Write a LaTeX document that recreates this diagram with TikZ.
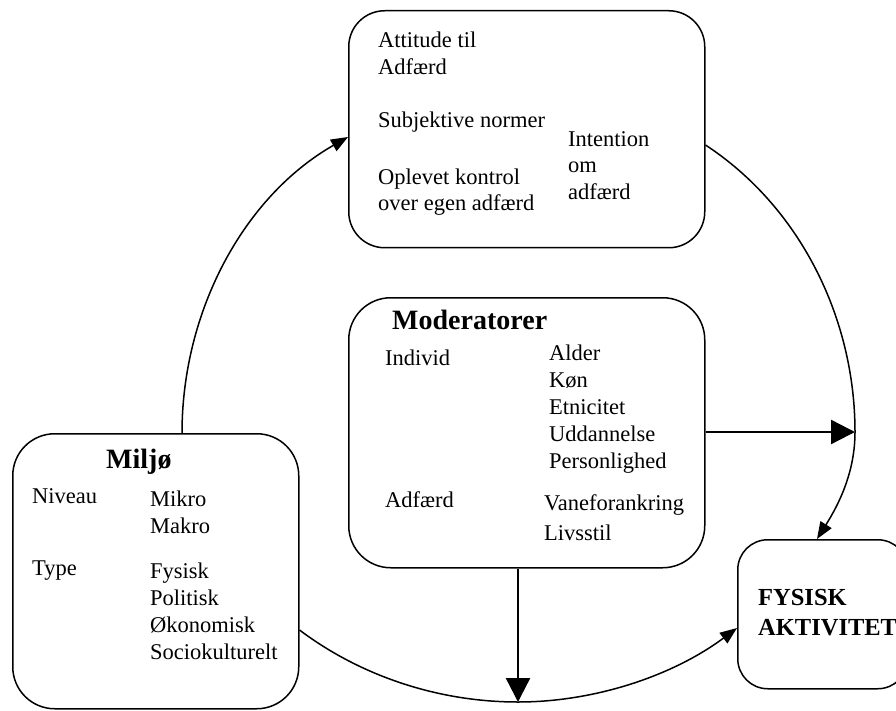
\documentclass[tikz,border=0pt]{standalone}
\usepackage{fontspec}
\setmainfont{Liberation Serif}
\usetikzlibrary{arrows.meta}
\begin{document}
\begin{tikzpicture}[x=1pt,y=-1pt,
  box/.style={draw, line width=1.5pt, rounded corners=#1, inner sep=0pt},
  box/.default=36pt,
  txt/.style={anchor=base west, inner sep=0pt, font=\fontsize{22.5}{27}\selectfont},
  head/.style={anchor=base west, inner sep=0pt, font=\fontsize{28}{32}\selectfont\bfseries},
  thin/.style={line width=1.5pt, -{Triangle[length=17pt,width=13pt]}},
  thick/.style={line width=2.4pt, -{Triangle[length=24pt,width=24pt]}}]
\useasboundingbox (0,0) rectangle (896,711);
\clip (0,0) rectangle (896,711);
% boxes
\node[box=36pt, minimum width=356pt, minimum height=237pt, anchor=north west] (top) at (348,10) {};
\node[box=42pt, minimum width=356pt, minimum height=270pt, anchor=north west] (mod) at (348,297) {};
\node[box=42pt, minimum width=286pt, minimum height=275pt, anchor=north west] (mil) at (12,433) {};
\node[box=30pt, minimum width=170pt, minimum height=149pt, anchor=north west] (fys) at (737,539) {};
% top box text
\node[txt] (t1) at (378,48) {Attitude til};
\node[txt] (t2) at (378,75) {Adfærd};
\node[txt] (t3) at (378,128) {Subjektive normer};
\node[txt] (t4) at (378,185) {Oplevet kontrol};
\node[txt] (t5) at (378,211) {over egen adfærd};
\node[txt] (t6) at (568,147) {Intention};
\node[txt] (t7) at (568,173) {om};
\node[txt] (t8) at (568,200) {adfærd};
% moderatorer text
\node[head] (m0) at (392,329) {Moderatorer};
\node[txt] (m1) at (385,365) {Individ};
\node[txt] (m2) at (549,360) {Alder};
\node[txt] (m3) at (549,387) {Køn};
\node[txt] (m4) at (549,414) {Etnicitet};
\node[txt] (m5) at (549,441) {Uddannelse};
\node[txt] (m6) at (549,468) {Personlighed};
\node[txt] (m7) at (385,507) {Adfærd};
\node[txt] (m8) at (544,510) {Vaneforankring};
\node[txt] (m9) at (544,540) {Livsstil};
% miljø text
\node[head] (e0) at (106,468) {Miljø};
\node[txt] (e1) at (32,503) {Niveau};
\node[txt] (e2) at (150,506) {Mikro};
\node[txt] (e3) at (150,533) {Makro};
\node[txt] (e4) at (32,575) {Type};
\node[txt] (e5) at (150,578) {Fysisk};
\node[txt] (e6) at (150,605) {Politisk};
\node[txt] (e7) at (150,632) {Økonomisk};
\node[txt] (e8) at (150,659) {Sociokulturelt};
% fysisk aktivitet text
\node[anchor=base west, inner sep=0pt, font=\fontsize{24.5}{30}\selectfont\bfseries] (f1) at (758,605) {FYSISK};
\node[anchor=base west, inner sep=0pt, font=\fontsize{24.5}{30}\selectfont\bfseries] (f2) at (758,635) {AKTIVITET};
% coordinates on the connectors
\coordinate (hit) at (855,432);
\coordinate (bot) at (518,702);
% connectors
\draw[thin] (182,0 |- mil.north) .. controls (182,312) and (243,197) .. (top.west |- 0,137);
\draw[thin] (top.east |- 0,145) .. controls (800,207) and (855,318) .. (hit)
  .. controls (855,472) and (839,504) .. (817,0 |- fys.north);
\draw[thin] (mil.east |- 0,630) .. controls (362,677) and (440,702) .. (bot)
  .. controls (596,702) and (674,675) .. (fys.west |- 0,628);
\draw[thick] (mod.east |- hit) -- (hit);
\draw[thick] (mod.south -| bot) -- (bot);
\end{tikzpicture}
\end{document}
